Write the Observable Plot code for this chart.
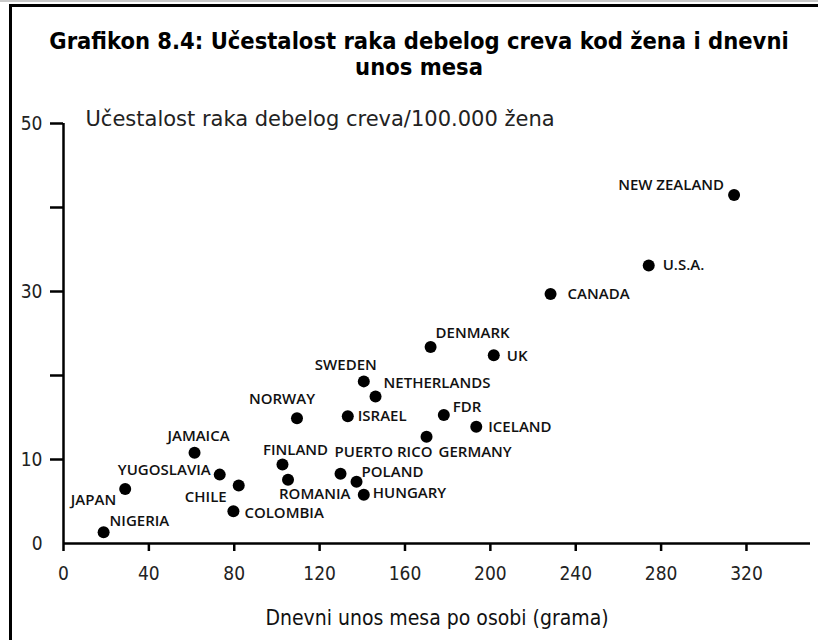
<!DOCTYPE html>
<html>
<head>
<meta charset="utf-8">
<script src="https://cdn.jsdelivr.net/npm/d3@7"></script>
<script src="https://cdn.jsdelivr.net/npm/@observablehq/plot@0.6"></script>
<style>
  html, body { margin: 0; padding: 0; background: #fff; width: 818px; height: 640px; overflow: hidden; }
  #wrap { position: relative; width: 818px; height: 640px; overflow: hidden; }
  #topline { position: absolute; left: 0; top: 0; width: 818px; height: 2px; background: #c8c8c8; }
  #frame { position: absolute; left: 9px; top: 4px; width: 900px; height: 700px; border: 3px solid #000; box-sizing: border-box; pointer-events: none; z-index: 2; }
  #title { position: absolute; left: 0; top: 28px; width: 838px; text-align: center; font-family: "DejaVu Sans Condensed", "DejaVu Sans", sans-serif; font-weight: bold; font-size: 23.5px; line-height: 26px; color: #000; margin: 0; }
  #chart { position: absolute; left: 0; top: 96px; }
</style>
</head>
<body>
<div id="wrap">
  <div id="topline"></div>
  <div id="title">Grafikon 8.4: Učestalost raka debelog creva kod žena i dnevni<br>unos mesa</div>
  <div id="chart"></div>
  <div id="frame"></div>
</div>
<script>
// ---- data ----
const countries = ["NIGERIA", "JAPAN", "YUGOSLAVIA", "JAMAICA", "CHILE", "COLOMBIA", "FINLAND", "ROMANIA",
  "NORWAY", "PUERTO RICO", "POLAND", "HUNGARY", "ISRAEL", "SWEDEN", "NETHERLANDS", "GERMANY",
  "DENMARK", "FDR", "ICELAND", "UK", "CANADA", "U.S.A.", "NEW ZEALAND"];
const meatIntake = [18.8, 28.9, 73.2, 61.4, 82.1, 79.6, 102.6, 105.2,
  109.4, 129.8, 137.3, 140.7, 133.2, 140.7, 146.2, 170.1,
  172.0, 178.2, 193.4, 201.6, 228.2, 274.2, 314.2];
const cancerRate = [1.35, 6.5, 8.2, 10.8, 6.9, 3.85, 9.4, 7.6,
  14.9, 8.3, 7.35, 5.8, 15.15, 19.3, 17.5, 12.7,
  23.4, 15.3, 13.9, 22.4, 29.7, 33.1, 41.5];
const xTicks = [0, 40, 80, 120, 160, 200, 240, 280, 320];
const yTicks = [10, 20, 30, 40, 50];
const yTickLabels = ["", "10", "", "30", "", "50"]; // index = value/10
const subtitleText = "Učestalost raka debelog creva/100.000 žena";
const xTitleText = "Dnevni unos mesa po osobi (grama)";

// ---- label placement (layout only) ----
const labelPlace = [
  ["start", 6, -11], ["end", -9, 11], ["end", -9, -4], ["middle", 4, -17], ["end", -12, 12],
  ["start", 11, 2], ["middle", 13, -14], ["start", -9, 15], ["middle", -15, -19], ["start", -6, -22],
  ["start", 5, -10], ["start", 9, -2], ["start", 10, 0], ["middle", -18, -16], ["start", 8, -13],
  ["start", 12, 15], ["start", 5, -14], ["start", 9, -8], ["start", 12, 0], ["start", 13, 1],
  ["start", 17, 0], ["start", 14, 0], ["end", -10, -10]
];

const rows = countries.map((c, i) => ({country: c, meat: meatIntake[i], rate: cancerRate[i]}));

const tickFont = {fontFamily: "'DejaVu Sans Condensed', 'DejaVu Sans', sans-serif", fontSize: 19};

const labelMarks = rows.map((r, i) => Plot.text([r], {
  x: "meat", y: "rate", text: "country",
  textAnchor: labelPlace[i][0], dx: labelPlace[i][1], dy: labelPlace[i][2],
  fontFamily: "'Open Sans', sans-serif", fontWeight: 600, fontSize: 15, fill: "#111"
}));

const chart = Plot.plot({
  width: 818,
  height: 544,
  marginLeft: 63,
  marginRight: 8,
  marginTop: 27,
  marginBottom: 97,
  x: {domain: [0, 350]},
  y: {domain: [0, 50]},
  style: {background: "transparent", color: "#000", overflow: "visible"},
  marks: [
    Plot.axisX({ticks: xTicks, tickSize: 8, tickPadding: 15, strokeWidth: 2.5, label: null, ...tickFont, fill: "#222"}),
    Plot.axisY({ticks: yTicks, tickSize: 13, tickPadding: 8, strokeWidth: 2.5, label: null,
      tickFormat: d => yTickLabels[d / 10], ...tickFont, fill: "#222"}),
    Plot.axisY({ticks: [0], tickSize: 0, tickPadding: 21, label: null, tickFormat: d => String(d), ...tickFont, fill: "#222"}),
    Plot.ruleY([0], {x1: 0, x2: 350, stroke: "#000", strokeWidth: 2.5}),
    Plot.ruleX([0], {y1: 0, y2: 50, stroke: "#000", strokeWidth: 2.5}),
    Plot.dot(rows, {x: "meat", y: "rate", r: 6, fill: "#000", stroke: "none"}),
    ...labelMarks,
    Plot.text([subtitleText], {frameAnchor: "top-left", text: d => d, dx: 22, dy: -4, textAnchor: "start", lineAnchor: "middle",
      fontFamily: "'DejaVu Sans', sans-serif", fontSize: 21, fill: "#222"}),
    Plot.text([xTitleText], {frameAnchor: "bottom", text: d => d, dy: 75, lineAnchor: "middle",
      fontFamily: "'DejaVu Sans Condensed', 'DejaVu Sans', sans-serif", fontSize: 21, fill: "#111"})
  ]
});
document.getElementById("chart").appendChild(chart);
</script>
</body>
</html>
